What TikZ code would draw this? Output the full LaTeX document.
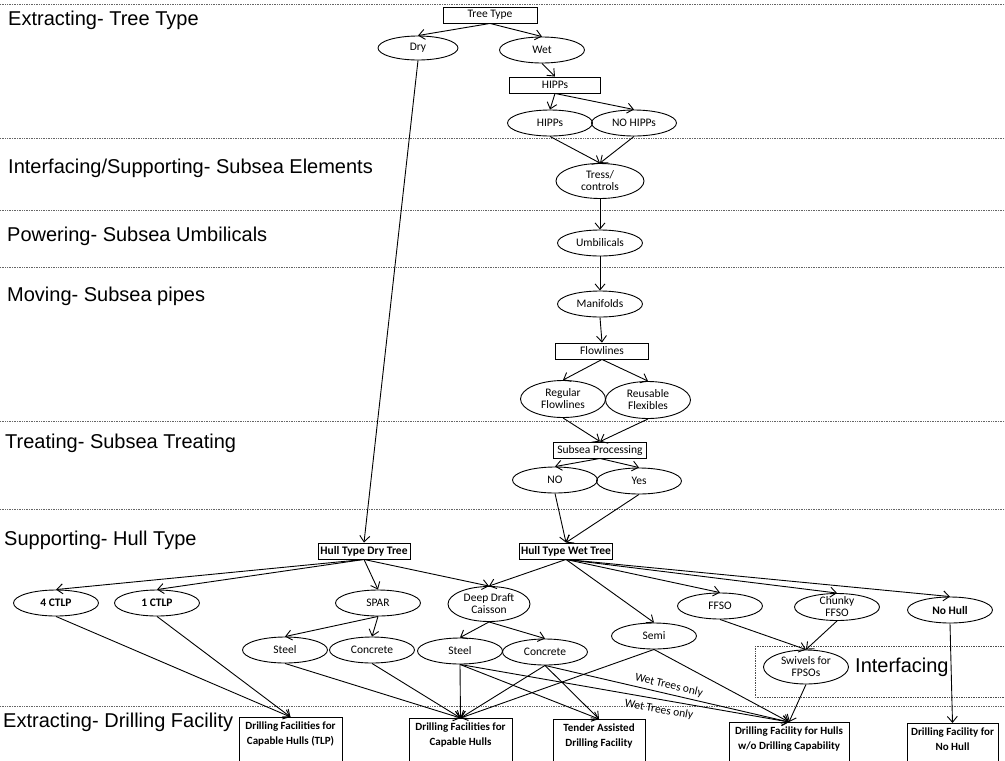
\documentclass[tikz,border=0pt]{standalone}
\usepackage{fontspec}
\setmainfont{Carlito}
\newfontfamily\headfont{Liberation Sans}
\usetikzlibrary{shapes.geometric,arrows.meta}

\tikzset{
  sep/.style={densely dotted, line width=0.7pt, black!60},
  head/.style={anchor=base west, inner sep=0pt, font=\headfont\fontsize{20}{22}\selectfont},
  el/.style={draw, ellipse, line width=0.9pt, minimum width=85pt, minimum height=26pt,
             inner sep=0pt, align=center, font=\fontsize{11.5}{12}\selectfont},
  el2/.style={el, minimum height=35pt},
  bold/.style={font=\bfseries\fontsize{11.5}{12}\selectfont},
  bx/.style={draw, line width=0.9pt, rectangle, minimum height=16pt, inner sep=0pt,
             font=\fontsize{11.5}{12}\selectfont},
  dfbox/.style={draw, line width=0.9pt, anchor=north, inner sep=0pt,
                font=\bfseries\fontsize{11}{15}\selectfont},
  ar/.style={-{Straight Barb[length=6pt,width=10pt]}, line width=0.9pt},
  note/.style={font=\fontsize{11.5}{12}\selectfont, inner sep=1pt, sloped}
}
% text block that starts at the top of a tall, open-bottomed box
\newcommand\dftext[2]{\parbox[t][48pt][t]{#1}{\centering\rule{0pt}{12pt}#2}}

\begin{document}
\begin{tikzpicture}[x=1pt,y=-1pt]
\useasboundingbox (0,0) rectangle (1005,761);
\clip (0,0) rectangle (1005,761);
\fill[white] (0,0) rectangle (1005,761);

% band separators
\foreach \yy in {4,138,210,267,421,509,706}
  \draw[sep] (0,\yy) -- (1005,\yy);

% band titles
\node[head] (h1) at (8,25)  {Extracting- Tree Type};
\node[head] (h2) at (8,173) {Interfacing/Supporting- Subsea Elements};
\node[head] (h3) at (7,241) {Powering- Subsea Umbilicals};
\node[head] (h4) at (7,301) {Moving- Subsea pipes};
\node[head] (h5) at (5,448) {Treating- Subsea Treating};
\node[head] (h6) at (4,545) {Supporting- Hull Type};
\node[head] (h7) at (3,727) {Extracting- Drilling Facility};

% interfacing frame
\draw[densely dotted, line width=0.7pt, black!70] (755,646) rectangle (1012,697);
\node[head] (h8) at (855,672) {Interfacing};

% subsea chain
\node[bx, minimum width=94pt] (treetype) at (490,15) {Tree Type};
\node[el, minimum width=80pt, minimum height=24pt] (dry) at (418,48) {Dry};
\node[el] (wet) at (542,50) {Wet};
\node[bx, minimum width=91pt] (hippsbox) at (555,85) {HIPPs};
\node[el] (hipps) at (550,123) {HIPPs};
\node[el] (nohipps) at (634,123) {NO HIPPs};
\node[el2, minimum width=88pt] (tress) at (600,181) {Tress/\\controls};
\node[el] (umb) at (600,243) {Umbilicals};
\node[el] (manif) at (600,304) {Manifolds};
\node[bx, minimum width=93pt] (flowbox) at (602,351) {Flowlines};
\node[el2, minimum height=37pt] (regular) at (563,399) {Regular\\Flowlines};
\node[el2, minimum height=37pt] (reusable) at (648,400) {Reusable\\Flexibles};
\node[bx, minimum width=93pt] (sproc) at (600,450) {Subsea Processing};
\node[el] (no) at (555,480) {NO};
\node[el] (yes) at (639,481) {Yes};

% hull types
\node[bx, bold, minimum width=93pt] (wetbox) at (566,551) {Hull Type Wet Tree};
\node[bx, bold, minimum width=92pt] (drybox) at (364,551) {Hull Type Dry Tree};

\node[el, bold] (ctlp4) at (56,603) {4 CTLP};
\node[el, bold] (ctlp1) at (157,603) {1 CTLP};
\node[el] (spar) at (378,603) {SPAR};
\node[el2, minimum width=82pt] (ddc) at (489,604) {Deep Draft\\Caisson};
\node[el] (semi) at (654,636) {Semi};
\node[el] (ffso) at (720,606) {FFSO};
\node[el, inner ysep=-3pt, minimum height=27pt] (chunky) at (837,607) {Chunky\\FFSO};
\node[el, bold] (nohull) at (950,610) {No Hull};
\node[el] (steelA) at (285,650) {Steel};
\node[el] (concA) at (372,650) {Concrete};
\node[el] (steelB) at (460,651) {Steel};
\node[el] (concB) at (545,652) {Concrete};
\node[el2, minimum height=34pt] (swivels) at (806,667) {Swivels for\\FPSOs};

% drilling facilities
\node[dfbox] (dftlp) at (290.5,717) {\dftext{103pt}{Drilling Facilities for\\Capable Hulls (TLP)}};
\node[dfbox] (dfcap) at (460.5,718) {\dftext{103pt}{Drilling Facilities for\\Capable Hulls}};
\node[dfbox] (tender) at (599,719) {\dftext{92pt}{Tender Assisted\\Drilling Facility}};
\node[dfbox] (dfwo) at (789,722) {\dftext{120pt}{Drilling Facility for Hulls\\w/o Drilling Capability}};
\node[dfbox] (dfnohull) at (952.5,723) {\dftext{91pt}{Drilling Facility for\\No Hull}};

% connectors: subsea chain
\draw[ar] (treetype.south) -- (dry.north);
\draw[ar] (treetype.south) -- (wet.north);
\draw[ar] (wet.south) -- (hippsbox.north);
\draw[ar] (hippsbox.south) -- (hipps.north);
\draw[ar] (hippsbox.south) -- (nohipps.north);
\draw[ar] (hipps.south) -- (tress.north);
\draw[ar] (nohipps.south) -- (tress.north);
\draw[ar] (tress.south) -- (umb.north);
\draw[ar] (umb.south) -- (manif.north);
\draw[ar] (manif.south) -- (flowbox.north);
\draw[ar] (flowbox.south) -- (regular.north);
\draw[ar] (flowbox.south) -- (reusable.north);
\draw[ar] (regular.south) -- (sproc.north);
\draw[ar] (reusable.south) -- (sproc.north);
\draw[ar] (sproc.south) -- (no.north);
\draw[ar] (sproc.south) -- (yes.north);
\draw[ar] (no.south) -- (wetbox.north);
\draw[ar] (yes.south) -- (wetbox.north);
\draw[ar] (dry.south) -- (drybox.north);

% connectors: hull types
\draw[ar] (drybox.south) -- (ctlp4.north);
\draw[ar] (drybox.south) -- (ctlp1.north);
\draw[ar] (drybox.south) -- (spar.north);
\draw[ar] (drybox.south) -- (ddc.north);
\draw[ar] (wetbox.south) -- (ddc.north);
\draw[ar] (wetbox.south) -- (semi.north);
\draw[ar] (wetbox.south) -- (ffso.north);
\draw[ar] (wetbox.south) -- (chunky.north);
\draw[ar] (wetbox.south) -- (nohull.north);
\draw[ar] (spar.south) -- (steelA.north);
\draw[ar] (spar.south) -- (concA.north);
\draw[ar] (ddc.south) -- (steelB.north);
\draw[ar] (ddc.south) -- (concB.north);
\draw[ar] (ffso.south) -- (swivels.north);
\draw[ar] (chunky.south) -- (swivels.north);

% connectors: drilling facilities
\draw[ar] (ctlp4.south) -- (dftlp.north);
\draw[ar] (ctlp1.south) -- (dftlp.north);
\draw[ar] (steelA.south) -- (dfcap.north);
\draw[ar] (concA.south) -- (dfcap.north);
\draw[ar] (steelB.south) -- (dfcap.north);
\draw[ar] (concB.south) -- (dfcap.north);
\draw[ar] (semi.south) -- (dfcap.north);
\draw[ar] (steelB.south) -- (tender.north);
\draw[ar] (concB.south) -- (tender.north);
\draw[ar] (concB.south) -- node[note, pos=0.5, above=2pt] (wt1) {Wet Trees only} (dfwo.north);
\draw[ar] (steelB.south) -- node[note, pos=0.61, below=4pt] (wt2) {Wet Trees only} (dfwo.north);
\draw[ar] (semi.south) -- (dfwo.north);
\draw[ar] (swivels.south) -- (dfwo.north);
\draw[ar] (nohull.south) -- (dfnohull.north);
\end{tikzpicture}
\end{document}
